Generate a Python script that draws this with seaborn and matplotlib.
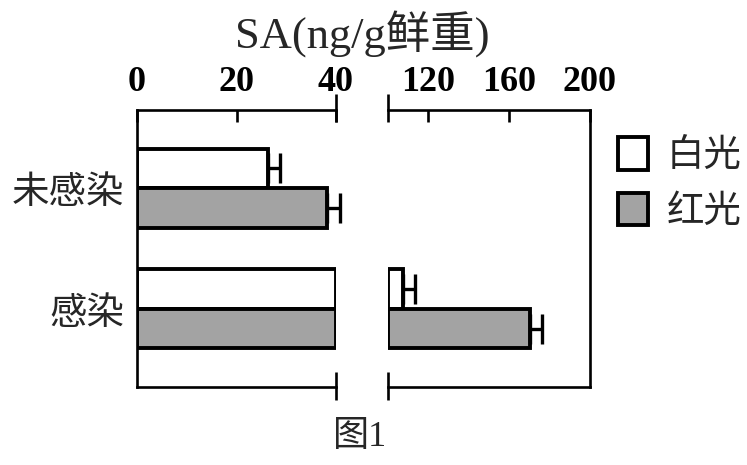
import numpy as np
import pandas as pd
import matplotlib
matplotlib.use("Agg")
import matplotlib.pyplot as plt
from matplotlib.patches import Patch
import seaborn as sns

# ---- data ----
categories = ["未感染", "感染"]
lights = ["白光", "红光"]
white_vals = [26.3, 107.4]
red_vals = [38.2, 170.3]
white_err = [2.4, 6.0]
red_err = [2.6, 5.8]
left_ticks = [0, 20, 40]
right_ticks = [120, 160, 200]
left_lim = (0, 40)
right_lim = (100, 200)

sns.set_theme(style="white")
plt.rcParams["font.family"] = ["Liberation Serif", "Noto Sans CJK SC"]
cjk = ["Noto Sans CJK SC", "DejaVu Sans"]
serif_cjk = ["Liberation Serif", "Noto Sans CJK SC"]

df = pd.DataFrame({
    "cat": categories * 2,
    "light": [lights[0]] * 2 + [lights[1]] * 2,
    "val": white_vals + red_vals,
    "err": white_err + red_err,
})

colors = {"白光": "#ffffff", "红光": "#a3a3a3"}
W, H = 747, 465
fig = plt.figure(figsize=(W / 100, H / 100), dpi=100)

top_px, bot_px = 110, 387
axL = fig.add_axes([137 / W, 1 - bot_px / H, (336 - 137) / W, (bot_px - top_px) / H])
axR = fig.add_axes([388 / W, 1 - bot_px / H, (590 - 388) / W, (bot_px - top_px) / H])

edge_lw = 2.8
spine_lw = 1.9

def draw(ax, lim, ticks, side):
    d = df.copy()
    if side == "L":
        d["plot"] = np.minimum(d["val"], lim[1])
    else:
        d["plot"] = d["val"]
    sns.barplot(data=d, y="cat", x="plot", hue="light", order=categories,
                hue_order=lights, palette=colors, orient="h", width=0.66,
                edgecolor="black", linewidth=edge_lw, legend=False, ax=ax,
                errorbar=None)
    bar_conts = list(ax.containers)[:len(lights)]
    # error bars
    for hi, cont in enumerate(bar_conts):
        sub = d[d["light"] == lights[hi]].set_index("cat").loc[categories]
        for ci, bar in enumerate(cont):
            v = sub["val"].iloc[ci]
            e = sub["err"].iloc[ci]
            yc = bar.get_y() + bar.get_height() / 2
            if side == "R":
                if v <= lim[0]:
                    bar.set_visible(False)
                    continue
                bar.set_x(lim[0])
                bar.set_width(v - lim[0])
            if lim[0] < v <= lim[1]:
                ax.errorbar([v], [yc], xerr=[[0], [e]], fmt="none",
                            ecolor="black", elinewidth=2.4, capsize=11,
                            capthick=2.4, clip_on=False, zorder=5)
    ax.set_xlim(*lim)
    ax.set_ylim(1.65, -0.65)
    ax.xaxis.tick_top()
    ax.set_xticks(ticks)
    ax.set_xticklabels([str(t) for t in ticks])
    ax.tick_params(axis="x", direction="in", length=8.5, width=spine_lw,
                   labelsize=26, pad=8, colors="black", top=True, bottom=False)
    ax.set_xlabel("")
    ax.set_ylabel("")
    for s in ax.spines.values():
        s.set_linewidth(spine_lw)
        s.set_color("black")

draw(axL, left_lim, left_ticks, "L")
draw(axR, right_lim, right_ticks, "R")

axL.spines["right"].set_visible(False)
axR.spines["left"].set_visible(False)
axR.set_yticks([])
axL.tick_params(axis="y", length=0, pad=9)
axL.set_yticks(range(len(categories)))
axL.set_yticklabels(categories, fontsize=27, family=cjk)
for lab in axL.get_xticklabels() + axR.get_xticklabels():
    lab.set_fontweight("bold")

# axis-break marks
for ax, xb in ((axL, left_lim[1]), (axR, right_lim[0])):
    tr = ax.get_xaxis_transform()
    ax.plot([xb, xb], [1 + 16 / 277, 1 - 12 / 277], color="black",
            lw=spine_lw, transform=tr, clip_on=False, solid_capstyle="butt")
    ax.plot([xb, xb], [15 / 277, -13 / 277], color="black",
            lw=spine_lw, transform=tr, clip_on=False, solid_capstyle="butt")

# title
fig.text(362 / W, 1 - 34 / H, "SA(ng/g鲜重)", ha="center", va="center",
         fontsize=32, family=serif_cjk)
fig.text(360 / W, 1 - 437 / H, "图1", ha="center", va="center",
         fontsize=26, family=serif_cjk)

handles = [Patch(facecolor=colors[l], edgecolor="black", linewidth=edge_lw)
           for l in lights]
leg = fig.legend(handles, lights, loc="upper left",
                 bbox_to_anchor=(592 / W, 1 - 110 / H), frameon=False,
                 prop={"family": cjk, "size": 27}, handlelength=0.8,
                 handleheight=0.95, handletextpad=0.5, labelspacing=0.45,
                 borderpad=0.2)

fig.savefig("out.png", dpi=100)
